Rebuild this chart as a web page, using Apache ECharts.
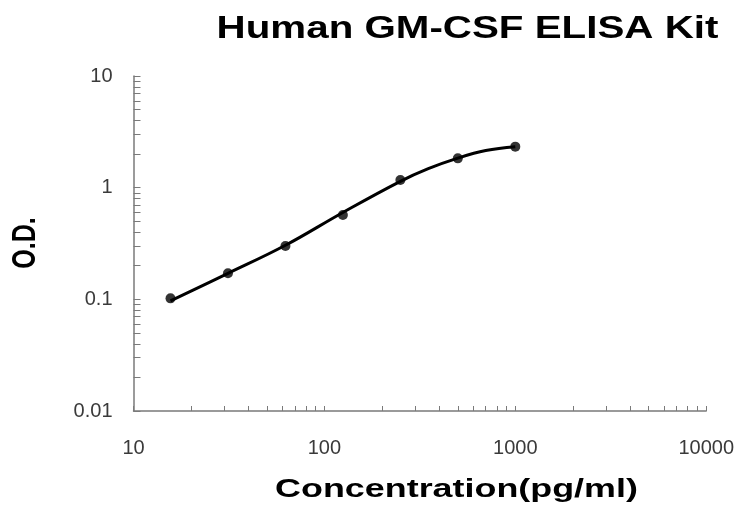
<!DOCTYPE html>
<html><head><meta charset="utf-8">
<script src="https://cdn.jsdelivr.net/npm/echarts@6/dist/echarts.min.js"></script>
<style>html,body{margin:0;padding:0;background:#fff}#c{width:737px;height:510px}</style>
</head><body><div id="c"></div>
<script>
const titleText = 'Human GM-CSF ELISA Kit';
const xName = 'Concentration(pg/ml)';
const yName = 'O.D.';
const concentrations = [15.625, 31.25, 62.5, 125, 250, 500, 1000];
const odValues = [0.102, 0.171, 0.30, 0.569, 1.17, 1.83, 2.33];
const curveConc = [15.625, 31.25, 62.5, 125, 250, 350, 500, 700, 1000];
const curveOD = [0.097, 0.171, 0.305, 0.60, 1.14, 1.48, 1.84, 2.15, 2.33];
const xTickLabels = [10, 100, 1000, 10000];
const yTickLabels = [0.01, 0.1, 1, 10];
const xTicks = [10,20,30,40,50,60,70,80,90,100,200,300,400,500,600,700,800,900,1000,2000,3000,4000,5000,6000,7000,8000,9000,10000];
const yTicks = [0.01,0.02,0.03,0.04,0.05,0.06,0.07,0.08,0.09,0.1,0.2,0.3,0.4,0.5,0.6,0.7,0.8,0.9,1,2,3,4,5,6,7,8,9,10];

const chart = echarts.init(document.getElementById('c'), null, {renderer: 'canvas'});
const axisColor = '#7a7a7a';
chart.setOption({
  animation: false,
  backgroundColor: '#ffffff',
  grid: {left: 133.5, right: 29, top: 76, bottom: 99, containLabel: false},
  xAxis: {
    type: 'log', logBase: 10, min: 10, max: 10000,
    axisLine: {lineStyle: {color: axisColor, width: 1.5}},
    axisTick: {show: true, inside: true, length: 5, customValues: xTicks, lineStyle: {color: axisColor, width: 1}},
    minorTick: {show: false},
    splitLine: {show: false},
    axisLabel: {customValues: xTickLabels, margin: 27, fontFamily: 'Liberation Sans', fontSize: 20, color: '#3a3a3a',
      formatter: v => String(v)}
  },
  yAxis: {
    type: 'log', logBase: 10, min: 0.01, max: 10,
    axisLine: {show: true, lineStyle: {color: axisColor, width: 1.5}},
    axisTick: {show: true, inside: true, length: 7, customValues: yTicks, lineStyle: {color: axisColor, width: 1}},
    splitLine: {show: false},
    axisLabel: {customValues: yTickLabels, margin: 21, fontFamily: 'Liberation Sans', fontSize: 20, color: '#3a3a3a',
      formatter: v => String(v)}
  },
  graphic: [
    {type: 'text', x: 467.5, y: 29, scaleX: 1.26,
      style: {text: titleText, font: 'bold 32px "Liberation Sans"', fill: '#000', textAlign: 'center', textVerticalAlign: 'middle'}},
    {type: 'text', x: 456.5, y: 490, scaleX: 1.38,
      style: {text: xName, font: 'bold 26px "Liberation Sans"', fill: '#000', textAlign: 'center', textVerticalAlign: 'middle'}},
    {type: 'text', x: 26, y: 243, rotation: Math.PI / 2, scaleY: 1.3,
      style: {text: yName, font: 'bold 25px "Liberation Sans"', fill: '#000', textAlign: 'center', textVerticalAlign: 'middle'}}
  ],
  series: [
    {type: 'line', data: curveConc.map((x, i) => [x, curveOD[i]]), smooth: 0.4, showSymbol: false,
      lineStyle: {color: '#000', width: 3}, z: 2},
    {type: 'scatter', data: concentrations.map((x, i) => [x, odValues[i]]), symbol: 'circle', symbolSize: 10,
      itemStyle: {color: '#000'}, z: 3}
  ]
});
</script></body></html>
